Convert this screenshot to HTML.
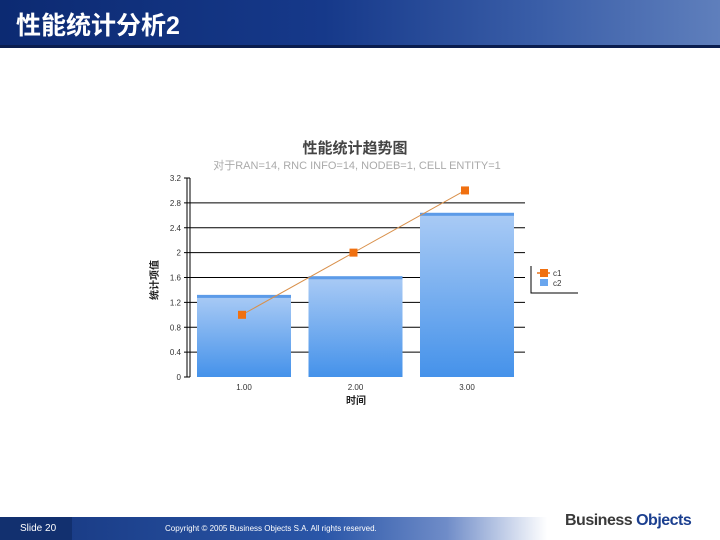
<!DOCTYPE html>
<html><head><meta charset="utf-8"><style>
body{margin:0;width:720px;height:540px;overflow:hidden;background:#fff;font-family:"Liberation Sans","Noto Sans CJK SC",sans-serif;position:relative}
.hdr{position:absolute;left:0;top:0;width:720px;height:45px;background:linear-gradient(90deg,#0c2a72 0%,#16398a 45%,#3a5ea8 75%,#5f7fbc 100%)}
.hdr-line{position:absolute;left:0;top:45px;width:720px;height:3px;background:#0a1d4e}
.title{position:absolute;left:16px;top:6px;color:#fff;font-size:25px;font-weight:bold}
.ftr{position:absolute;left:0;top:517px;width:720px;height:23px;background:linear-gradient(90deg,#16367e 0%,#2a56a8 45%,#6f8cc8 62%,#fff 76%)}
.ftr-l{position:absolute;left:0;top:517px;width:72px;height:23px;background:#12306f}
</style></head><body>
<div class="hdr"></div>
<div class="hdr-line"></div>
<div class="title">性能统计分析2</div>
<div class="ftr"></div>
<div class="ftr-l"></div>
<div style="position:absolute;left:20px;top:523px;color:#fff;font-size:10px">Slide 20</div>
<div style="position:absolute;left:165px;top:524px;color:#fff;font-size:8px">Copyright © 2005 Business Objects S.A. All rights reserved.</div>
<div style="position:absolute;left:565px;top:512px;color:#3a3a3a;font-size:16px;font-weight:bold;letter-spacing:-0.5px">Business <span style="color:#1b3f8f">Objects</span></div>
<svg style="position:absolute;left:0;top:0" width="720" height="540">
<defs><linearGradient id="bg" x1="0" y1="0" x2="0" y2="1"><stop offset="0" stop-color="#aacbf5"/><stop offset="1" stop-color="#4592ea"/></linearGradient></defs>
<text x="355" y="153" text-anchor="middle" font-size="15" font-weight="bold" fill="#444">性能统计趋势图</text>
<text x="357" y="169" text-anchor="middle" font-size="11" fill="#aaa">对于RAN=14, RNC INFO=14, NODEB=1, CELL ENTITY=1</text>
<text transform="translate(158,280) rotate(-90)" text-anchor="middle" font-size="10" font-weight="bold" fill="#222">统计项值</text>
<text x="356" y="404" text-anchor="middle" font-size="10" font-weight="bold" fill="#222">时间</text>
<g id="grid"></g><g id="bars"></g><g id="line"></g>
<g>
<path d="M531 266 V293 H578" stroke="#000" fill="none"/>
<line x1="537" y1="273" x2="550" y2="273" stroke="#e8731a" stroke-width="1.5"/>
<rect x="540" y="269" width="8" height="8" fill="#f07010"/>
<text x="553" y="276" font-size="8" fill="#333">c1</text>
<rect x="540" y="279" width="8" height="7" fill="#6aa6ee"/>
<text x="553" y="286" font-size="8" fill="#333">c2</text>
</g>
</svg>
<script>
const categories=["1.00","2.00","3.00"];
const c2Values=[1.32,1.62,2.64];
const c1Values=[1.0,2.0,3.0];
const yTicks=[0,0.4,0.8,1.2,1.6,2,2.4,2.8,3.2];
const ns="http://www.w3.org/2000/svg";
const y0=377,yTop=178,xL=190,xR=525;
function ys(v){return y0-(v/3.2)*(y0-yTop);}
function xs(i){return 197+i*111.5;}
function mk(t,a,p){const e=document.createElementNS(ns,t);for(const k in a)e.setAttribute(k,a[k]);p.appendChild(e);return e;}
const g=document.getElementById('grid');
mk('line',{x1:xL,y1:yTop,x2:xL,y2:y0,stroke:'#000'},g);
mk('line',{x1:187,y1:yTop,x2:187,y2:y0,stroke:'#000'},g);
yTicks.forEach(v=>{
  const y=ys(v);
  if(v>0&&v<3.2){const l=mk('line',{x1:xL,y1:y,x2:xR,y2:y,stroke:'#000'},g);
  
  }
  mk('line',{x1:184,y1:y,x2:xL,y2:y,stroke:'#000'},g);
  const t=mk('text',{x:181,y:y+3,'text-anchor':'end','font-size':'8',fill:'#333'},g);
  t.textContent=String(v);
  
  
});
const b=document.getElementById('bars');
categories.forEach((c,i)=>{
  const x=xs(i),w=94,y=ys(c2Values[i]);
  const r=mk('rect',{x:x,y:y,width:w,height:y0-y,fill:'url(#bg)'},b);
  
  
  mk('rect',{x:x,y:y,width:w,height:3,fill:'#5c9be8'},b);
  const t=mk('text',{x:x+w/2,y:390,'text-anchor':'middle','font-size':'8',fill:'#333'},b);
  t.textContent=c;
  
  
});
const L=document.getElementById('line');
const pts=c1Values.map((v,i)=>[xs(i)+45,ys(v)]);
const pl=mk('polyline',{points:pts.map(p=>p.join(',')).join(' '),fill:'none',stroke:'#d9904a','stroke-width':'1'},L);


pts.forEach(p=>{
  const m=mk('rect',{x:p[0]-4,y:p[1]-4,width:8,height:8,fill:'#f07010'},L);
  
  
});
</script>
</body></html>
